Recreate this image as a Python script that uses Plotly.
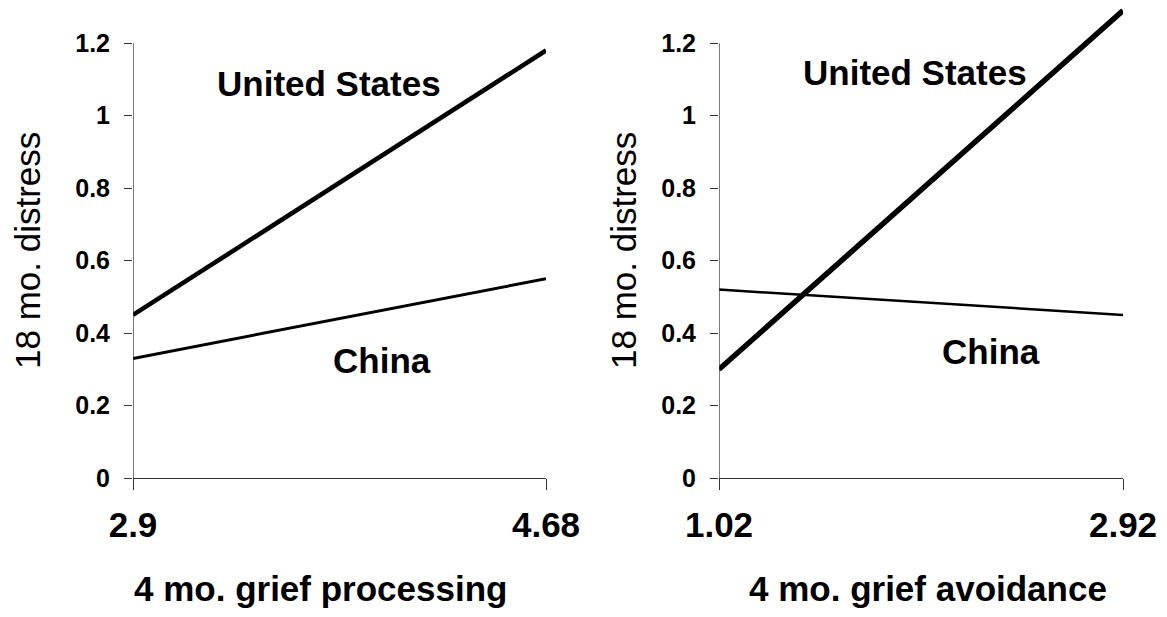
import plotly.graph_objects as go
from plotly.subplots import make_subplots

# Simple slopes of 18-month distress by country
proc_x = [2.9, 4.68]
proc_us = [0.45, 1.18]
proc_china = [0.33, 0.55]

avoid_x = [1.02, 2.92]
avoid_us = [0.30, 1.29]
avoid_china = [0.52, 0.45]

y_ticks = [0, 0.2, 0.4, 0.6, 0.8, 1.0, 1.2]
y_tick_text = ["0", "0.2", "0.4", "0.6", "0.8", "1", "1.2"]

FONT = "Liberation Sans, Arial, sans-serif"

fig = make_subplots(rows=1, cols=2)

fig.add_trace(go.Scatter(x=proc_x, y=proc_us, mode="lines",
                         line=dict(color="black", width=4.5)), row=1, col=1)
fig.add_trace(go.Scatter(x=proc_x, y=proc_china, mode="lines",
                         line=dict(color="black", width=3)), row=1, col=1)
fig.add_trace(go.Scatter(x=avoid_x, y=avoid_us, mode="lines",
                         line=dict(color="black", width=5.5)), row=1, col=2)
fig.add_trace(go.Scatter(x=avoid_x, y=avoid_china, mode="lines",
                         line=dict(color="black", width=2.5)), row=1, col=2)

W, H = 1167, 617
TOP, BOTTOM = 7, 478          # plot area in pixels
dom_left = [133 / W, 546 / W]
dom_right = [719 / W, 1123 / W]

axis_common = dict(showgrid=False, zeroline=False, ticks="outside", automargin=False,
                   tickcolor="#333", linecolor="#333", linewidth=1.3)

fig.update_xaxes(**axis_common, showline=True, ticklen=11, tickwidth=1.3,
                 ticklabelstandoff=5,
                 tickfont=dict(family=FONT, size=35, color="black", weight="bold"))
fig.update_xaxes(range=proc_x, tickvals=proc_x, ticktext=["2.9", "4.68"],
                 domain=dom_left, row=1, col=1)
fig.update_xaxes(range=avoid_x, tickvals=avoid_x, ticktext=["1.02", "2.92"],
                 domain=dom_right, row=1, col=2)

fig.update_yaxes(**axis_common, showline=False, ticklen=8, tickwidth=1.3,
                 range=[0, 1.3], tickvals=y_ticks, ticktext=y_tick_text,
                 ticklabelstandoff=9,
                 tickfont=dict(family=FONT, size=25, color="black", weight="bold"))

# axis titles
def py(px):
    return (BOTTOM - px) / (BOTTOM - TOP)

xtitle_font = dict(family=FONT, size=35, color="black", weight="bold")
fig.add_annotation(x=320 / W, y=py(588), xref="paper", yref="paper",
                   text="4 mo. grief processing", showarrow=False,
                   xanchor="center", yanchor="middle", font=xtitle_font)
fig.add_annotation(x=928 / W, y=py(588), xref="paper", yref="paper",
                   text="4 mo. grief avoidance", showarrow=False,
                   xanchor="center", yanchor="middle", font=xtitle_font)

ytitle_font = dict(family=FONT, size=35, color="black")
fig.add_annotation(x=27 / W, y=py(251), xref="paper", yref="paper",
                   text="18 mo. distress", textangle=-90, showarrow=False,
                   xanchor="center", yanchor="middle", font=ytitle_font)
fig.add_annotation(x=623 / W, y=py(251), xref="paper", yref="paper",
                   text="18 mo. distress", textangle=-90, showarrow=False,
                   xanchor="center", yanchor="middle", font=ytitle_font)

# vertical axis lines stop at the top tick (1.2)
for xref, yref, x0 in [("x", "y", proc_x[0]), ("x2", "y2", avoid_x[0])]:
    fig.add_shape(type="line", xref=xref, yref=yref, x0=x0, x1=x0, y0=0, y1=1.2,
                  line=dict(color="#333", width=1.3))

label_font = dict(family=FONT, size=35, color="black", weight="bold")
fig.add_annotation(x=3.746, y=1.09, xref="x", yref="y", text="United States",
                   showarrow=False, font=label_font)
fig.add_annotation(x=3.975, y=0.325, xref="x", yref="y", text="China",
                   showarrow=False, font=label_font)
fig.add_annotation(x=1.94, y=1.118, xref="x2", yref="y2", text="United States",
                   showarrow=False, font=label_font)
fig.add_annotation(x=2.30, y=0.35, xref="x2", yref="y2", text="China",
                   showarrow=False, font=label_font)

fig.update_layout(width=W, height=H, showlegend=False,
                  plot_bgcolor="white", paper_bgcolor="white",
                  margin=dict(l=0, r=0, t=TOP, b=H - BOTTOM))

fig.write_html("out.html")
